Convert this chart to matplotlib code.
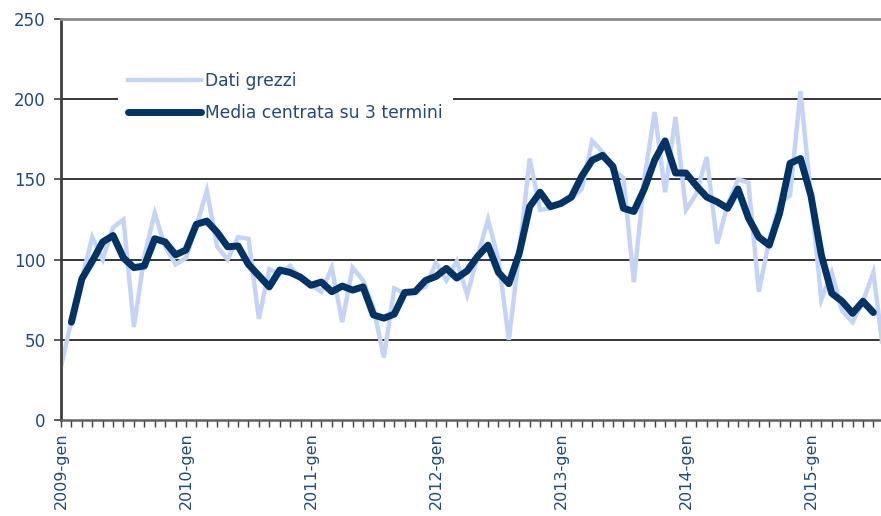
import matplotlib
matplotlib.use('Agg')
import matplotlib.pyplot as plt
from matplotlib.ticker import MultipleLocator, FixedLocator

# monthly values, 2009-gen .. 2015-ago
dati_grezzi = [33, 62, 88, 114, 100, 120, 125, 58, 102, 129,
               108, 97, 101, 121, 143, 108, 100, 114, 113, 63,
               94, 91, 96, 88, 84, 80, 95, 61, 95, 87,
               70, 39, 82, 79, 81, 83, 98, 87, 99, 78,
               102, 125, 100, 50, 104, 163, 131, 132, 135, 138,
               144, 174, 167, 156, 151, 86, 150, 192, 142, 189,
               131, 141, 164, 110, 134, 150, 148, 80, 112, 135,
               140, 205, 140, 75, 92, 68, 61, 74, 92, 40]

# centred 3-term mean, from 2009-feb to 2015-lug
media_mobile = [61, 88, 99, 111, 115, 101, 95, 96, 113, 111,
                103, 106, 122, 124, 117, 108, 108.5, 97, 90, 83,
                93.5, 92, 89, 84, 86, 80, 83.5, 81, 83, 65.5,
                63.5, 66, 79.5, 80, 87, 89.5, 94.5, 88.5, 93, 102,
                109, 92, 85, 104, 133, 142, 133, 135, 139, 152,
                162, 165, 158, 132, 130, 144, 162, 174, 154, 154,
                146, 139, 136, 132, 144, 126, 114, 109, 129, 160,
                163, 140, 103, 79, 74, 66.5, 74, 67]

etichette_anni = ['2009-gen', '2010-gen', '2011-gen', '2012-gen',
                  '2013-gen', '2014-gen', '2015-gen']

text_color = '#1f4a7a'
raw_color = '#c4d4f8'
ma_color = '#003366'

x_raw = list(range(len(dati_grezzi)))
x_ma = list(range(1, 1 + len(media_mobile)))

fig = plt.figure(figsize=(8.81, 5.16), dpi=100)
ax = fig.add_axes([61 / 881, 1 - 420 / 516, 828 / 881, 401 / 516])

for v in [50, 100, 150, 200]:
    ax.axhline(v, color='black', lw=1.1, zorder=1)

ax.plot(x_raw, dati_grezzi, color=raw_color, lw=3.2,
        solid_joinstyle='miter', label='Dati grezzi', zorder=2)
ax.plot(x_ma, media_mobile, color=ma_color, lw=5, solid_capstyle='round',
        solid_joinstyle='round', label='Media centrata su 3 termini', zorder=3)

ax.set_xlim(0, 79.5)
ax.set_ylim(0, 250)
ax.yaxis.set_major_locator(MultipleLocator(50))
ax.xaxis.set_major_locator(FixedLocator(list(range(0, 80, 12))))
ax.xaxis.set_minor_locator(MultipleLocator(1))
ax.set_xticklabels(etichette_anni, rotation=90, fontsize=11.5, color=text_color)
ax.tick_params(axis='y', labelsize=12, labelcolor=text_color, length=5,
               width=1.2, color='#404040', direction='out', pad=6)
ax.tick_params(axis='x', which='both', length=5, width=1.0, color='#404040',
               direction='out', pad=4)

ax.spines['right'].set_visible(False)
ax.spines['top'].set_color('#8a8a8a')
ax.spines['top'].set_linewidth(2)
ax.spines['left'].set_color('#404040')
ax.spines['left'].set_linewidth(2)
ax.spines['bottom'].set_color('#606060')
ax.spines['bottom'].set_linewidth(1.8)

leg = ax.legend(loc='upper left', bbox_to_anchor=(0.058, 0.915), frameon=True,
                facecolor='white', edgecolor='none', framealpha=1,
                fontsize=12.3, handlelength=4.3, handletextpad=0.2,
                labelspacing=0.8, borderpad=0.6, fancybox=False)
for t in leg.get_texts():
    t.set_color(text_color)
leg.set_zorder(5)

fig.savefig('out.png', dpi=100)
